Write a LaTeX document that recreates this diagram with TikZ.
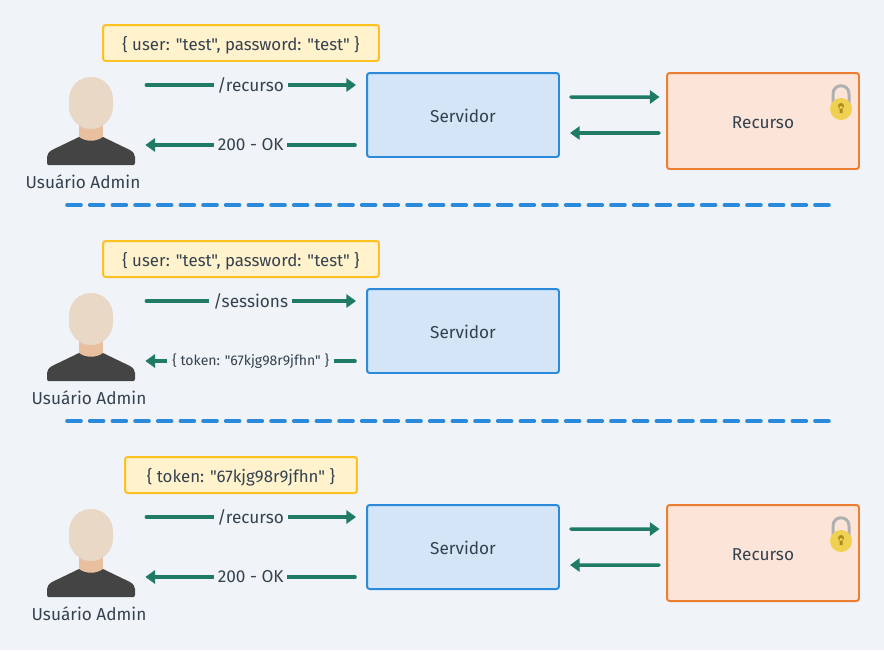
\documentclass[tikz,border=0pt]{standalone}
\usepackage{fontspec}
\newfontfamily\labelfont{Fira Sans}
\usepackage{xcolor}
\usetikzlibrary{arrows.meta}
\definecolor{pagebg}{HTML}{F0F4F8}
\definecolor{inktext}{HTML}{34424F}
\definecolor{flowgreen}{HTML}{1F7A66}
\definecolor{splitblue}{HTML}{2B8AD9}
\definecolor{serverfill}{HTML}{D3E5F7}
\definecolor{resourcefill}{HTML}{FCE5D8}
\definecolor{resourceline}{HTML}{ED7D31}
\definecolor{notefill}{HTML}{FFF2CC}
\definecolor{noteline}{HTML}{FFC021}
\definecolor{headskin}{HTML}{EAD8C6}
\definecolor{neckskin}{HTML}{E8C0A0}
\definecolor{shirt}{HTML}{444444}
\definecolor{lockgold}{HTML}{F0D050}
\definecolor{lockhole}{HTML}{AA8A1F}
\definecolor{lockgray}{HTML}{B0B0B0}

\begin{document}
\begin{tikzpicture}[
    x=0.02cm,y=-0.02cm,
    every node/.style={font=\labelfont\fontsize{9.8pt}{11pt}\selectfont,text=inktext},
    box/.style={rectangle,draw,line width=1.13pt,rounded corners=1.5pt,minimum height=1.68cm,minimum width=3.84cm,align=center,text height=8pt,text depth=0pt},
    server/.style={box,draw=splitblue,fill=serverfill},
    resource/.style={box,draw=resourceline,fill=resourcefill,minimum height=1.92cm},
    note/.style={box,draw=noteline,fill=notefill,minimum height=0.72cm,minimum width=5.52cm,font=\labelfont\fontsize{9.6pt}{11pt}\selectfont},
    shortnote/.style={note,minimum width=4.64cm},
    userbox/.style={rectangle,minimum width=1.76cm,minimum height=2cm,inner sep=0pt},
    username/.style={inner sep=0pt},
    flow/.style={-{Triangle[length=5.5pt,width=7.5pt]},flowgreen,line width=2pt,line cap=round},
    flowlabel/.style={fill=pagebg,inner sep=2.2pt},
    split/.style={splitblue,line width=2pt,line cap=round,dash pattern=on 8pt off 4.9pt},
    person/.pic={
        \fill[neckskin] (-12,5) rectangle (12,26);
        \fill[shirt] (-12,22) .. controls (-6,27) and (6,27) .. (12,22) -- (39,35)
            .. controls (42,37) and (44,39) .. (44,42) -- (44,48) -- (43,50) -- (-43,50) -- (-44,48) -- (-44,42)
            .. controls (-44,39) and (-42,37) .. (-39,35) -- cycle;
        \fill[headskin] (-22,-15) .. controls (-22,-29) and (-12,-38) .. (0,-38)
            .. controls (12,-38) and (22,-29) .. (22,-15) -- (22,-8)
            .. controls (22,4) and (12,14) .. (0,14)
            .. controls (-12,14) and (-22,4) .. (-22,-8) -- cycle;
    },
    padlock/.pic={
        \draw[lockgray,line width=1.7pt] (-8,0) -- (-8,-15) .. controls (-8,-26) and (8,-26) .. (8,-15) -- (8,0);
        \fill[lockgold] (0,0) circle[radius=11];
        \fill[lockhole] (0,-3) circle[radius=3] (-1.5,-3) rectangle (1.5,4);
    }
]

% Page background (fixes the proportions)
\fill[pagebg] (0,0) rectangle (884,650);

% First row
\node[userbox] (user1) at (91,115) {};
\pic at (user1) {person};
\node[username] (name1) at (83,182) {Usuário Admin};
\node[note] (note1) at (241,43) {\{ user: "test", password: "test" \}};
\node[server] (server1) at (463,115) {Servidor};
\node[resource] (resource1) at (763,121) {Recurso};
\pic at (841,109) {padlock};

% Second row
\node[userbox] (user2) at (91,331) {};
\pic at (user2) {person};
\node[username] (name2) at (89,398) {Usuário Admin};
\node[note] (note2) at (241,259) {\{ user: "test", password: "test" \}};
\node[server] (server2) at (463,331) {Servidor};

% Third row
\node[userbox] (user3) at (91,547) {};
\pic at (user3) {person};
\node[username] (name3) at (89,614) {Usuário Admin};
\node[shortnote] (note3) at (241,475) {\{ token: "67kjg98r9jfhn" \}};
\node[server] (server3) at (463,547) {Servidor};
\node[resource] (resource3) at (763,553) {Recurso};
\pic at (841,541) {padlock};

% Separators
\coordinate (split1a) at (67,205);
\coordinate (split1b) at (829,205);
\coordinate (split2a) at (67,421);
\coordinate (split2b) at (829,421);
\draw[split] (split1a) -- (split1b);
\draw[split] (split2a) -- (split2b);

% Request and response arrows
\draw[flow,shorten <=0.22cm,shorten >=0.2cm] ([yshift=0.6cm]user1.east) -- node[flowlabel] {/recurso} ([yshift=0.6cm]server1.west);
\draw[flow,shorten <=0.22cm,shorten >=0.2cm] ([yshift=-0.6cm]server1.west) -- node[flowlabel] {200 - OK} ([yshift=-0.6cm]user1.east);
\draw[flow,shorten <=0.22cm,shorten >=0.13cm] ([yshift=0.36cm]server1.east) -- ([yshift=0.48cm]resource1.west);
\draw[flow,shorten <=0.14cm,shorten >=0.2cm] ([yshift=-0.24cm]resource1.west) -- ([yshift=-0.36cm]server1.east);

\draw[flow,shorten <=0.22cm,shorten >=0.2cm] ([yshift=0.6cm]user2.east) -- node[flowlabel] {/sessions} ([yshift=0.6cm]server2.west);
\draw[flow,shorten <=0.22cm,shorten >=0.2cm] ([yshift=-0.6cm]server2.west) -- node[flowlabel,inner sep=3pt,font=\labelfont\fontsize{8pt}{9pt}\selectfont] {\{ token: "67kjg98r9jfhn" \}} ([yshift=-0.6cm]user2.east);

\draw[flow,shorten <=0.22cm,shorten >=0.2cm] ([yshift=0.6cm]user3.east) -- node[flowlabel] {/recurso} ([yshift=0.6cm]server3.west);
\draw[flow,shorten <=0.22cm,shorten >=0.2cm] ([yshift=-0.6cm]server3.west) -- node[flowlabel] {200 - OK} ([yshift=-0.6cm]user3.east);
\draw[flow,shorten <=0.22cm,shorten >=0.13cm] ([yshift=0.36cm]server3.east) -- ([yshift=0.48cm]resource3.west);
\draw[flow,shorten <=0.14cm,shorten >=0.2cm] ([yshift=-0.24cm]resource3.west) -- ([yshift=-0.36cm]server3.east);

\end{tikzpicture}
\end{document}
